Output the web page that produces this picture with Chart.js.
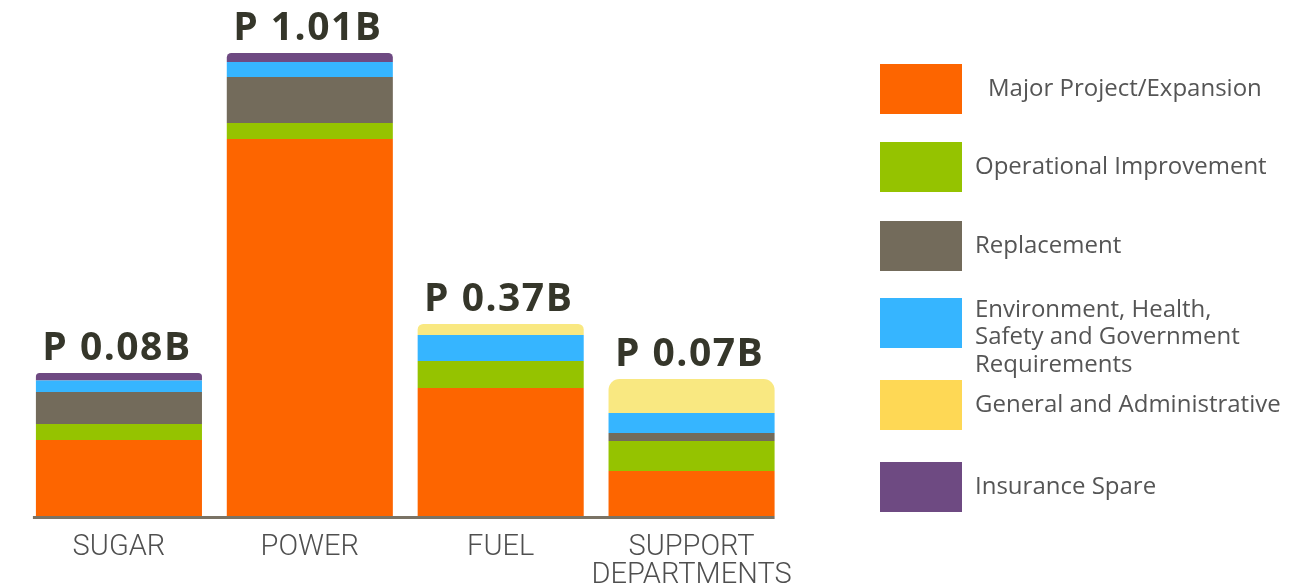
<!DOCTYPE html>
<html>
<head>
<meta charset="utf-8">
<script src="https://cdn.jsdelivr.net/npm/chart.js@4.4.1/dist/chart.umd.min.js"></script>
<style>
  html, body { margin: 0; padding: 0; background: #fff; }
</style>
</head>
<body>
<canvas id="capex" width="1310" height="585"></canvas>
<script>
//----------------------------------donnees du graphique

// categories (axe x)
const categories = ['SUGAR', 'POWER', 'FUEL', ['SUPPORT', 'DEPARTMENTS']];
// montants affiches au dessus des barres
const totals = ['P 0.08B', 'P 1.01B', 'P 0.37B', 'P 0.07B'];

// hauteurs des segments (le graphique d'origine n'est pas a l'echelle)
const majorProject = [76, 377, 128, 45];
const operational = [16, 16, 27, 30];
const replacement = [32, 46, 0, 8];
const environment = [11.5, 15, 26, 20];
const generalAdmin = [0, 0, 11, 34];
const insurance = [7.5, 9, 0, 0];

// noms des series et lignes de la legende
const seriesNames = [
  'Major Project/Expansion',
  'Operational Improvement',
  'Replacement',
  'Environment, Health, Safety and Government Requirements',
  'General and Administrative',
  'Insurance Spare'
];
const legendLines = [
  ['Major Project/Expansion'],
  ['Operational Improvement'],
  ['Replacement'],
  ['Environment, Health,', 'Safety and Government', 'Requirements'],
  ['General and Administrative'],
  ['Insurance Spare']
];

const barColors = ['#fd6500', '#95c300', '#736b5b', '#36b5ff', '#f9e881', '#6e4a82'];
const legendColors = ['#fd6500', '#95c300', '#736b5b', '#36b5ff', '#fed855', '#6e4a82'];

const seriesData = [majorProject, operational, replacement, environment, generalAdmin, insurance];

//----------------------------------plugins

// dernier segment non nul de la pile => coins arrondis
function isTopSegment(dsIndex, catIndex) {
  for (let k = seriesData.length - 1; k >= 0; k--) {
    if (seriesData[k][catIndex] > 0) return k === dsIndex;
  }
  return false;
}

// trait de base sous les barres
const baseLine = {
  id: 'baseLine',
  afterDatasetsDraw(chart) {
    const ctx = chart.ctx;
    const meta = chart.getDatasetMeta(0);
    const first = meta.data[0];
    const last = meta.data[meta.data.length - 1];
    const y = chart.scales.y.getPixelForValue(0);
    ctx.save();
    ctx.strokeStyle = '#7a7365';
    ctx.lineWidth = 3;
    ctx.beginPath();
    ctx.moveTo(first.x - first.width / 2 - 3, y + 1.5);
    ctx.lineTo(last.x + last.width / 2, y + 1.5);
    ctx.stroke();
    ctx.restore();
  }
};

// montants au dessus des piles
const totalLabels = {
  id: 'totalLabels',
  afterDatasetsDraw(chart) {
    const ctx = chart.ctx;
    const yScale = chart.scales.y;
    const meta = chart.getDatasetMeta(0);
    ctx.save();
    ctx.font = 'bold 39px "Open Sans"';
    ctx.letterSpacing = '1.5px';
    ctx.fillStyle = '#35362a';
    ctx.textAlign = 'center';
    ctx.textBaseline = 'alphabetic';
    totals.forEach((txt, i) => {
      let sum = 0;
      chart.data.datasets.forEach(ds => { sum += ds.data[i]; });
      ctx.fillText(txt, meta.data[i].x - 2, yScale.getPixelForValue(sum) - 13);
    });
    ctx.restore();
  }
};

// legende a droite
const legendTops = [64, 142, 221, 298, 380, 462];
const sideLegend = {
  id: 'sideLegend',
  afterDraw(chart) {
    const ctx = chart.ctx;
    ctx.save();
    ctx.font = '24px "Open Sans"';
    ctx.textBaseline = 'middle';
    chart.data.datasets.forEach((ds, i) => {
      const top = legendTops[i];
      ctx.fillStyle = legendColors[i];
      ctx.fillRect(880, top, 82, 50);
      ctx.fillStyle = '#555555';
      const lines = legendLines[i];
      const x = i === 0 ? 988 : 975;
      const y0 = lines.length > 1 ? top + 12 : top + 25;
      lines.forEach((line, k) => ctx.fillText(line, x, y0 + k * 27.5));
    });
    ctx.restore();
  }
};

//----------------------------------graphique

new Chart(document.getElementById('capex'), {
  type: 'bar',
  data: {
    labels: categories,
    datasets: seriesData.map((values, i) => ({
      label: seriesNames[i],
      data: values,
      backgroundColor: barColors[i],
      borderWidth: 0,
      borderRadius: (c) => isTopSegment(c.datasetIndex, c.dataIndex)
        ? { topLeft: 11, topRight: 11, bottomLeft: 0, bottomRight: 0 }
        : 0,
      categoryPercentage: 1,
      barPercentage: 0.87
    }))
  },
  options: {
    responsive: false,
    animation: false,
    layout: { padding: { top: 36, left: 23.5, right: 523, bottom: 0 } },
    plugins: {
      legend: { display: false },
      tooltip: { enabled: false }
    },
    scales: {
      x: {
        stacked: true,
        grid: { display: false, drawTicks: false },
        border: { display: false },
        ticks: {
          color: '#4f4f4f',
          padding: 18,
          autoSkip: false,
          maxRotation: 0,
          minRotation: 0,
          font: { family: 'Roboto', size: 29, weight: 300, lineHeight: 0.97 }
        },
        afterFit: (scale) => { scale.height = 69; }
      },
      y: {
        stacked: true,
        display: false,
        min: 0,
        max: 480
      }
    }
  },
  plugins: [baseLine, totalLabels, sideLegend]
});
</script>
</body>
</html>
